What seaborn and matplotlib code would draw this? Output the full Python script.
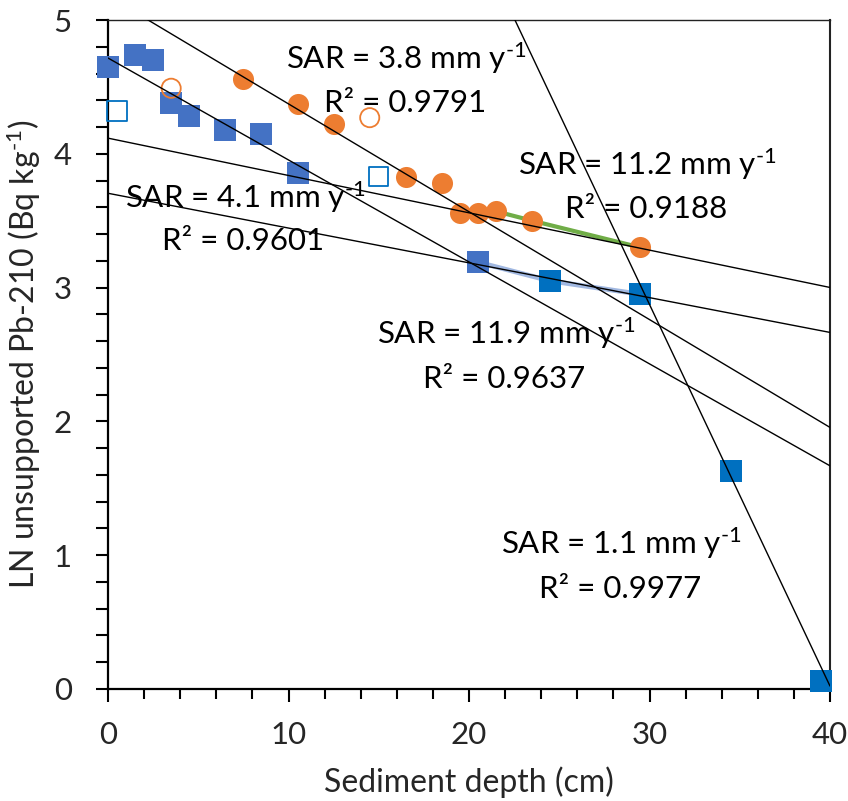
import numpy as np
import pandas as pd
import matplotlib
matplotlib.use("Agg")
import matplotlib.pyplot as plt
import seaborn as sns

# Core A (squares) and core B (circles): depth (cm) vs LN unsupported Pb-210
blue_depth = [0, 1.5, 2.5, 3.5, 4.5, 6.5, 8.5, 10.5, 20.5]
blue_ln = [4.65, 4.74, 4.70, 4.38, 4.28, 4.18, 4.15, 3.86, 3.19]
deep_depth = [24.5, 29.5, 34.5, 39.5]
deep_ln = [3.05, 2.95, 1.63, 0.06]
blue_open_depth = [0.5, 15.0]
blue_open_ln = [4.32, 3.83]

orange_depth = [7.5, 10.5, 12.5, 16.5, 18.5, 19.5, 20.5, 21.5, 23.5, 29.5]
orange_ln = [4.56, 4.37, 4.22, 3.83, 3.78, 3.56, 3.56, 3.57, 3.50, 3.30]
orange_open_depth = [3.5, 14.5]
orange_open_ln = [4.49, 4.27]

# lower-segment connectors
green_depth = [21.5, 23.5, 29.5]
green_ln = [3.57, 3.50, 3.30]
bluelink_depth = [20.5, 24.5, 29.5]
bluelink_ln = [3.19, 3.05, 2.95]

# linear fits: slope, intercept
fit_slopes = [-0.0806, -0.0762, -0.0279, -0.0260, -0.2852]
fit_intercepts = [5.179, 4.716, 4.117, 3.705, 11.43]

# fit annotations
SUP = r"$^{\text{-}1}$"
sar_labels = ["SAR = 3.8 mm y" + SUP, "SAR = 4.1 mm y" + SUP, "SAR = 11.2 mm y" + SUP,
              "SAR = 11.9 mm y" + SUP, "SAR = 1.1 mm y" + SUP]
r2_labels = ["R² = 0.9791", "R² = 0.9601", "R² = 0.9188", "R² = 0.9637", "R² = 0.9977"]
sar_pos = [(16.5, 4.633), (7.59, 3.593), (29.86, 3.84), (22.05, 2.582), (28.44, 1.010)]
r2_pos = [(16.45, 4.311), (7.48, 3.278), (29.8, 3.518), (21.94, 2.253), (28.36, 0.681)]

sns.set_theme(style="ticks")
plt.rcParams["font.family"] = ["Lato", "DejaVu Sans"]
plt.rcParams["mathtext.fontset"] = "custom"
plt.rcParams["mathtext.rm"] = "Lato"
plt.rcParams["mathtext.it"] = "Lato:italic"
plt.rcParams["mathtext.bf"] = "Lato:bold"

FS_TXT = 22.5
FS_TICK = 22.5
FS_LAB = 23
fig = plt.figure(figsize=(8.48, 8.01), dpi=100)
ax = fig.add_axes([108 / 848, 1 - 689 / 801, 722 / 848, 669 / 801])

# connecting lines (under markers)
sns.lineplot(x=green_depth, y=green_ln, ax=ax, color="#70AD47", lw=3, sort=False, zorder=2)
sns.lineplot(x=bluelink_depth, y=bluelink_ln, ax=ax, color="#4472C4", alpha=0.5, lw=3.5,
             sort=False, zorder=2)

# markers
sns.scatterplot(x=blue_depth, y=blue_ln, ax=ax, marker="s", s=230, color="#4472C4",
                linewidth=0, zorder=3, clip_on=False)
sns.scatterplot(x=deep_depth, y=deep_ln, ax=ax, marker="s", s=230, color="#0070C0",
                linewidth=0, zorder=3, clip_on=False)
sns.scatterplot(x=orange_depth, y=orange_ln, ax=ax, marker="o", s=230, color="#ED7D31",
                linewidth=0, zorder=3, clip_on=False)
ax.scatter(blue_open_depth, blue_open_ln, marker="s", s=190, facecolors="none",
           edgecolors="#0070C0", linewidths=1.3, zorder=3, clip_on=False)
ax.scatter(orange_open_depth, orange_open_ln, marker="o", s=190, facecolors="none",
           edgecolors="#ED7D31", linewidths=1.3, zorder=3, clip_on=False)

# fit lines
xs = np.array([0.0, 40.0])
for m, b in zip(fit_slopes, fit_intercepts):
    sns.lineplot(x=xs, y=m * xs + b, ax=ax, color="black", lw=1.0, zorder=4)

for lab, (x, y) in zip(sar_labels, sar_pos):
    ax.text(x, y, lab, ha="center", va="baseline", fontsize=FS_TXT, color="black", zorder=5)
for lab, (x, y) in zip(r2_labels, r2_pos):
    ax.text(x, y, lab, ha="center", va="baseline", fontsize=FS_TXT, color="black", zorder=5)

ax.set_xlim(0, 40)
ax.set_ylim(0, 5)
ax.set_xticks(np.arange(0, 41, 10))
ax.set_xticks(np.arange(0, 41, 2), minor=True)
ax.set_yticks(np.arange(0, 6, 1))
ax.set_yticks(np.arange(0, 5.01, 0.2), minor=True)
ax.tick_params(axis="both", which="major", labelsize=FS_TICK, color="black", width=1.5,
               length=9, direction="out")
ax.tick_params(axis="x", which="major", pad=14)
ax.tick_params(axis="y", which="major", pad=17)
ax.tick_params(axis="both", which="minor", color="black", width=1.5, length=7,
               direction="out")
ax.tick_params(axis="y", which="minor", length=9)

for side in ["left", "bottom"]:
    ax.spines[side].set_linewidth(1.6)
    ax.spines[side].set_color("black")
ax.spines["right"].set_visible(True)
ax.spines["top"].set_visible(True)
ax.spines["right"].set_linewidth(1.5)
ax.spines["right"].set_color("#222222")
ax.spines["top"].set_linewidth(1.0)
ax.spines["top"].set_color("#222222")

ax.set_xlabel("Sediment depth (cm)", fontsize=FS_LAB)
ax.set_ylabel("LN unsupported Pb-210 (Bq kg" + SUP + ")", fontsize=FS_LAB)
ax.xaxis.set_label_coords(0.5, -0.115)
ax.yaxis.set_label_coords(-0.09, 0.5)

fig.savefig("out.png", dpi=100)
